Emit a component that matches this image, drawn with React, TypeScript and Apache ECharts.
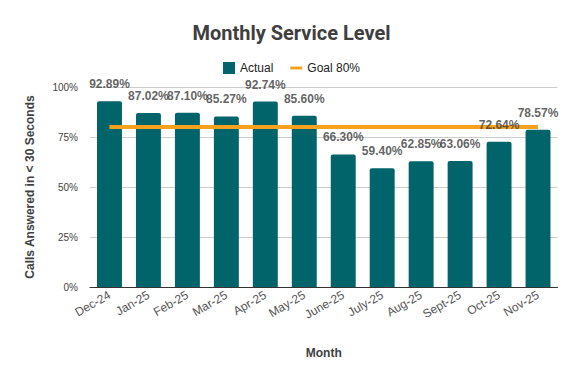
import React, { useEffect, useRef } from "react";
import * as echarts from "echarts";

const months = ["Dec-24", "Jan-25", "Feb-25", "Mar-25", "Apr-25", "May-25", "June-25", "July-25", "Aug-25", "Sept-25", "Oct-25", "Nov-25"];
const actual = [92.89, 87.02, 87.1, 85.27, 92.74, 85.6, 66.3, 59.4, 62.85, 63.06, 72.64, 78.57];
const goal = [80, 80, 80, 80, 80, 80, 80, 80, 80, 80, 80, 80];
const yTicks = [0, 25, 50, 75, 100];

const TFONT = "Roboto, Arial, sans-serif";
const FONT = "'Liberation Sans', Arial, sans-serif";

export default function App() {
  const ref = useRef<HTMLDivElement>(null);
  useEffect(() => {
    if (!ref.current) return;
    const chart = echarts.init(ref.current, null, { renderer: "svg" });
    chart.setOption({
      animation: false,
      textStyle: { fontFamily: FONT },
      title: {
        text: "Monthly Service Level",
        left: "center",
        top: 18,
        textStyle: { fontSize: 20, fontWeight: "bold", color: "#3f3f3f", fontFamily: TFONT },
      },
      legend: {
        top: 57,
        left: "center",
        itemGap: 17,
        itemWidth: 12,
        itemHeight: 12,
        textStyle: { fontSize: 12, color: "#222", fontFamily: FONT },
        data: [
          { name: "Actual", icon: "rect" },
          { name: "Goal 80%", icon: "path://M0,0h12v3h-12z" },
        ],
      },
      grid: { left: 90, right: 25.5, top: 87, bottom: 84 },
      xAxis: {
        type: "category",
        data: months,
        name: "Month",
        nameLocation: "middle",
        nameGap: 60,
        nameTextStyle: { fontSize: 12, fontWeight: "bold", color: "#3f3f3f", fontFamily: FONT },
        axisLine: { lineStyle: { color: "#333", width: 1 } },
        axisTick: { show: false },
        axisLabel: { rotate: 30, fontSize: 12, color: "#555", margin: 7, interval: 0, fontFamily: FONT },
      },
      yAxis: {
        type: "value",
        min: yTicks[0],
        max: yTicks[yTicks.length - 1],
        interval: 25,
        name: "Calls Answered in < 30 Seconds",
        nameLocation: "middle",
        nameGap: 54,
        nameTextStyle: { fontSize: 12, fontWeight: "bold", color: "#3f3f3f", fontFamily: FONT },
        axisLine: { show: false },
        axisTick: { show: false },
        axisLabel: { fontSize: 10, color: "#444", margin: 12, formatter: (v: number) => v + "%", fontFamily: FONT },
        splitLine: { lineStyle: { color: "#cccccc", width: 1 } },
      },
      series: [
        {
          name: "Actual",
          type: "bar",
          data: actual,
          barWidth: "64%",
          itemStyle: { color: "#00646a", borderRadius: [2, 2, 0, 0] },
          z: 2,
        },
        {
          name: "Goal 80%",
          type: "line",
          data: goal,
          symbol: "none",
          lineStyle: { color: "#f6a21e", width: 4 },
          itemStyle: { color: "#f6a21e" },
          z: 3,
        },
        {
          name: "labels",
          type: "scatter",
          data: actual,
          symbolSize: 0,
          silent: true,
          z: 5,
          label: {
            show: true,
            position: "top",
            distance: 11,
            fontSize: 12,
            fontWeight: "bold",
            color: "#3a3a3a",
            fontFamily: FONT,
            textBorderWidth: 0,
            formatter: (p: any) => p.value.toFixed(2) + "%",
          },
        },
      ],
    });
    return () => chart.dispose();
  }, []);
  return <div ref={ref} style={{ position: "fixed", left: 0, top: 0, width: 583, height: 371, background: "#fff" }} />;
}
